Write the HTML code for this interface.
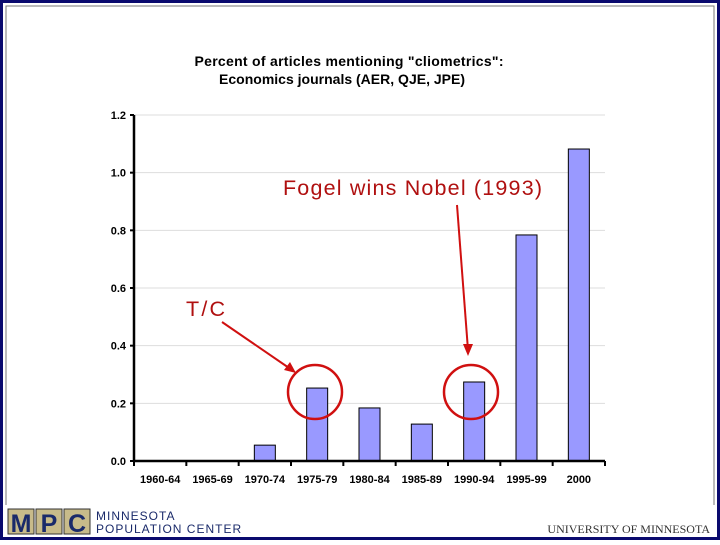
<!DOCTYPE html>
<html><head><meta charset="utf-8"><style>
body{margin:0;width:720px;height:540px;overflow:hidden;background:#fff;font-family:"Liberation Sans",sans-serif}
</style></head><body>
<svg width="720" height="540" viewBox="0 0 720 540" xmlns="http://www.w3.org/2000/svg">
<rect x="1.5" y="1.5" width="717" height="537" fill="none" stroke="#0a0a6e" stroke-width="3"/>
<path d="M6,505 V6 H714 V505" fill="none" stroke="#777" stroke-width="1"/>
<g font-weight="bold" font-size="14" text-anchor="middle" fill="#000">
<text x="349" y="66" textLength="309">Percent of articles mentioning "cliometrics":</text>
<text x="342" y="84" textLength="246">Economics journals (AER, QJE, JPE)</text>
</g>
<g id="plot"></g>
<g>
<text x="283" y="195" font-size="21.5" fill="#b01010" textLength="259">Fogel wins Nobel (1993)</text>
<text x="186" y="316" font-size="21.5" fill="#b01010" textLength="39">T/C</text>
<line x1="222" y1="322" x2="292" y2="370" stroke="#d01010" stroke-width="2"/>
<polygon points="296,373 284,370 290,362" fill="#d01010"/>
<line x1="457" y1="205" x2="468" y2="350" stroke="#d01010" stroke-width="2"/>
<polygon points="468,356 463,344 473,344" fill="#d01010"/>
<circle cx="315" cy="392" r="27" fill="none" stroke="#d01010" stroke-width="2.5"/>
<circle cx="471" cy="392" r="27" fill="none" stroke="#d01010" stroke-width="2.5"/>
</g>
<g>
<rect x="8" y="509" width="26" height="25" fill="#c8bb8a" stroke="#333"/>
<rect x="36" y="509" width="26" height="25" fill="#c8bb8a" stroke="#333"/>
<rect x="64" y="509" width="26" height="25" fill="#c8bb8a" stroke="#333"/>
<text x="21" y="532" font-size="25" font-weight="bold" fill="#1a2a6a" text-anchor="middle">M</text>
<text x="49" y="532" font-size="25" font-weight="bold" fill="#1a2a6a" text-anchor="middle">P</text>
<text x="77" y="532" font-size="25" font-weight="bold" fill="#1a2a6a" text-anchor="middle">C</text>
<text x="96" y="520" font-size="12" fill="#1a2a6a" letter-spacing="1">MINNESOTA</text>
<text x="96" y="533" font-size="12" fill="#1a2a6a" letter-spacing="1">POPULATION CENTER</text>
</g>
<text x="710" y="533" font-size="12" fill="#333" text-anchor="end" font-family="Liberation Serif,serif">UNIVERSITY OF MINNESOTA</text>
</svg>
<script>
const categories=["1960-64","1965-69","1970-74","1975-79","1980-84","1985-89","1990-94","1995-99","2000"];
const values=[0,0,0.055,0.253,0.184,0.128,0.274,0.784,1.082];
const yTicks=[0,0.2,0.4,0.6,0.8,1.0,1.2];
const yTickLabels=["0.0","0.2","0.4","0.6","0.8","1.0","1.2"];
const NS="http://www.w3.org/2000/svg";
const x0=134,x1=605,y0=461,y1=115,ymax=1.2;
const band=(x1-x0)/categories.length;
function yS(v){return y0-(v/ymax)*(y0-y1);}
function xC(i){return x0+band*(i+0.5);}
const g=document.getElementById('plot');
function mk(t,a){const e=document.createElementNS(NS,t);for(const k in a)e.setAttribute(k,a[k]);g.appendChild(e);return e;}
yTicks.forEach((v,i)=>{
 if(v>0){const gl=mk('line',{x1:x0,x2:x1,y1:yS(v),y2:yS(v),stroke:'#ddd','stroke-width':1});
 
 }
 const t=mk('line',{x1:x0-4,x2:x0,y1:yS(v),y2:yS(v),stroke:'#000','stroke-width':2});
 
 
 const l=mk('text',{x:x0-8,y:yS(v)+4,'font-size':11,'font-weight':'bold','text-anchor':'end'});
 l.textContent=yTickLabels[i];
 
 
});
values.forEach((v,i)=>{
 if(v<=0)return;
 const b=mk('rect',{x:xC(i)-10.5,y:yS(v),width:21,height:y0-yS(v),fill:'#9999ff',stroke:'#000','stroke-width':1});
 
 
});
const ya=mk('line',{x1:x0,x2:x0,y1:y1,y2:y0,stroke:'#000','stroke-width':2.5});


const xa=mk('line',{x1:x0,x2:x1,y1:y0,y2:y0,stroke:'#000','stroke-width':2.5});


for(let i=0;i<=categories.length;i++){
 const t=mk('line',{x1:x0+band*i,x2:x0+band*i,y1:y0,y2:y0+5,stroke:'#000','stroke-width':2});
 
 
}
categories.forEach((c,i)=>{
 const l=mk('text',{x:xC(i),y:y0+22,'font-size':11,'font-weight':'bold','text-anchor':'middle'});
 l.textContent=c;
 
 
});
</script>
</body></html>
